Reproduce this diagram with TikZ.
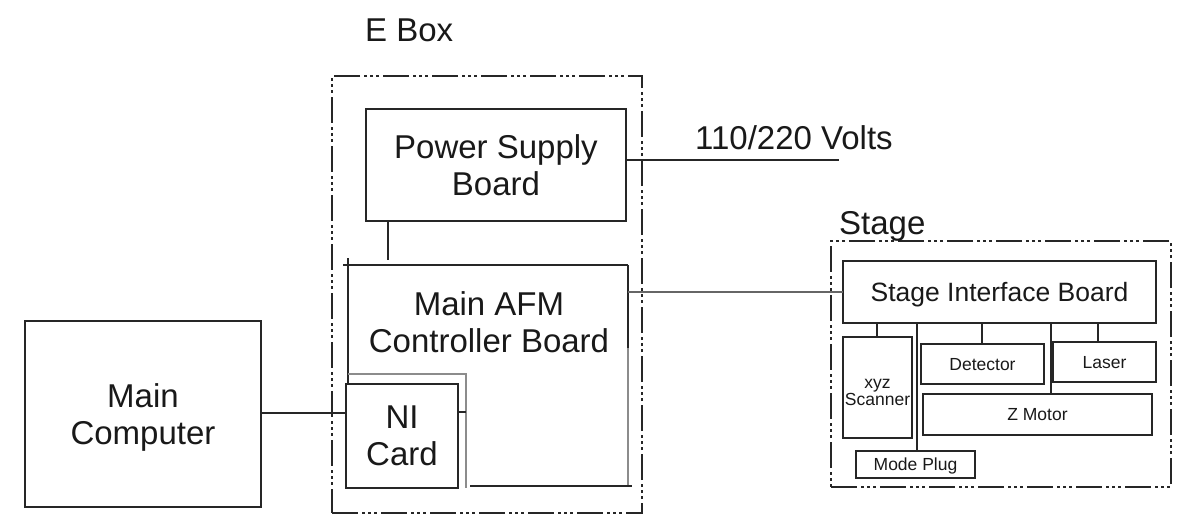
\documentclass[tikz,border=0pt]{standalone}
\usepackage{fontspec}
\setmainfont{Liberation Sans}
\begin{document}
\begin{tikzpicture}[x=1pt,y=-1pt,
  ln/.style={draw=black!85,line width=2pt},
  lngray/.style={draw=black!45,line width=2pt},
  box/.style={rectangle,ln,inner sep=0pt,outer sep=0pt,align=center,text=black!90},
  frame/.style={rectangle,draw=black!85,line width=1.5pt,inner sep=0pt,outer sep=0pt,
    dash pattern=on 26pt off 4pt on 3pt off 3pt on 3pt off 3pt on 3pt off 4pt},
  big/.style={font=\fontsize{33}{37}\selectfont},
  mid/.style={font=\fontsize{26.5}{30}\selectfont},
  small/.style={font=\fontsize{17.5}{18}\selectfont},
  lbl/.style={inner sep=0pt,text=black!90}]
\useasboundingbox (0,0) rectangle (1200,531);

% group frames
\node[frame,minimum width=310pt,minimum height=437pt] (ebox) at (487,294.5) {};
\node[frame,minimum width=340pt,minimum height=246pt] (stage) at (1001,364) {};
\node[lbl,big,anchor=base west] (eboxlbl) at (365,41) {E Box};
\node[lbl,big,anchor=base west] (stagelbl) at (839,234) {Stage};

% E box content
\node[box,big,minimum width=260pt,minimum height=112pt] (psb) at (496,165) {Power Supply\\Board};
\node[lbl,big,align=center,text depth=0pt] (afm) at (489,322) {Main AFM\\Controller Board};
\node[box,big,minimum width=112pt,minimum height=104pt,text depth=0pt] (ni) at (402,436) {NI\\Card};
\node[box,big,minimum width=236pt,minimum height=186pt,text depth=0pt] (mc) at (143,414) {Main\\Computer};

% AFM board outline
\coordinate (afmTL) at (343,265);
\coordinate (afmTR) at (628,265);
\coordinate (afmLeftTop) at (348,258);
\coordinate (afmRmid) at (628,348);
\coordinate (afmBR) at (628,486);
\coordinate (afmBL) at (470,486);
\coordinate (afmBRx) at (632,486);
\coordinate (inTL) at (348,374);
\coordinate (inTR) at (466,374);
\coordinate (inBR) at (466,488);
\coordinate (inStub) at (466,412);
\draw[ln] (afmTL) -- (afmTR);
\draw[ln] (afmLeftTop) -- (afmLeftTop |- ni.north);
\draw[ln] (afmTR) -- (afmRmid);
\draw[lngray] (afmRmid) -- (afmBR);
\draw[ln] (afmBL) -- (afmBRx);
\draw[lngray] (inTL) -- (inTR) -- (inBR);
\draw[ln] (ni.east |- inStub) -- (inStub);

% power
\node[lbl,big,anchor=base west] (volts) at (695,149) {110/220 Volts};
\coordinate (vend) at (839,160);
\draw[ln] (psb.east |- vend) -- (vend);
\coordinate (psbafm) at (388,260);
\draw[ln] (psb.south -| psbafm) -- (psbafm);

% computer to NI card
\coordinate (mcni) at (300,413);
\draw[ln] (mc.east |- mcni) -- (ni.west |- mcni);

% stage content
\node[box,mid,minimum width=313pt,minimum height=62pt,text depth=0pt] (sib) at (999.5,292) {Stage Interface Board};
\node[box,small,minimum width=69pt,minimum height=101pt] (xyz) at (877.5,387.5) {};
\node[lbl,small,align=center,text depth=0pt] (xyztext) at (877.5,392) {xyz\\[-1pt]Scanner};
\node[box,small,minimum width=119pt,minimum height=27pt,text depth=0pt] (mode) at (915.5,464.5) {Mode Plug};
\node[box,small,minimum width=123pt,minimum height=40pt,text depth=0pt] (det) at (982.5,364) {Detector};
\node[box,small,minimum width=103pt,minimum height=40pt,text depth=0pt] (laser) at (1104.5,362) {Laser};
\node[box,small,minimum width=229pt,minimum height=41pt,text depth=0pt] (zm) at (1037.5,414.5) {Z Motor};

% AFM to stage interface board
\coordinate (afmE) at (628,292);
\draw[draw=black!60,line width=2pt] (afmE) -- (sib.west);

% stage connectors
\coordinate (cxyz) at (877,0);
\coordinate (cmode) at (917,0);
\coordinate (cdet) at (982,0);
\coordinate (czm) at (1051,0);
\coordinate (claser) at (1098,0);
\draw[ln] (sib.south -| cxyz) -- (xyz.north -| cxyz);
\draw[ln] (sib.south -| cmode) -- (mode.north -| cmode);
\draw[ln] (sib.south -| cdet) -- (det.north -| cdet);
\draw[ln] (sib.south -| czm) -- (zm.north -| czm);
\draw[ln] (sib.south -| claser) -- (laser.north -| claser);
\end{tikzpicture}
\end{document}
